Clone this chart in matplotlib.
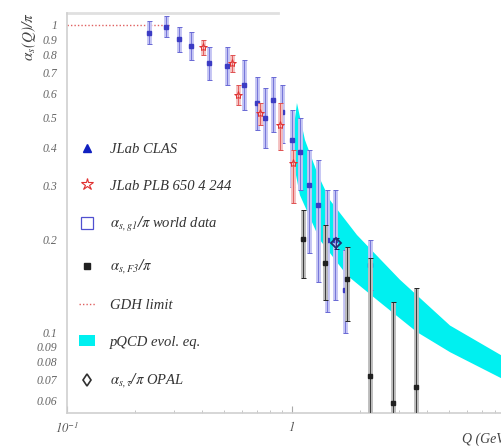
import matplotlib
matplotlib.use("Agg")
import matplotlib.pyplot as plt
from matplotlib.lines import Line2D
from matplotlib.patches import Patch
import numpy as np

plt.rcParams['font.family'] = ['Liberation Serif', 'DejaVu Serif']
plt.rcParams['font.style'] = 'italic'
plt.rcParams['mathtext.fontset'] = 'stix'

# alpha_g1/pi world data: Q, value, lower edge, upper edge
q_world = [0.231, 0.275, 0.315, 0.356, 0.428, 0.514, 0.612, 0.699, 0.759, 0.823,
           0.903, 1.000, 1.085, 1.190, 1.305, 1.431, 1.553, 1.720, 2.222]
a_world = [0.942, 0.985, 0.900, 0.854, 0.752, 0.735, 0.638, 0.557, 0.498, 0.570,
           0.521, 0.422, 0.386, 0.301, 0.259, 0.199, 0.199, 0.137, 0.165]
lo_world = [0.867, 0.914, 0.817, 0.769, 0.662, 0.638, 0.529, 0.455, 0.398, 0.448,
            0.413, 0.297, 0.290, 0.181, 0.146, 0.116, 0.127, 0.0993, 0.137]
hi_world = [1.030, 1.070, 0.985, 0.949, 0.848, 0.848, 0.769, 0.677, 0.623, 0.677,
            0.638, 0.529, 0.498, 0.392, 0.363, 0.290, 0.290, 0.185, 0.199]

# JLab PLB 650 4 244
q_plb = [0.402, 0.541, 0.575, 0.721, 0.885, 1.010]
a_plb = [0.848, 0.752, 0.592, 0.517, 0.472, 0.355]
lo_plb = [0.798, 0.703, 0.549, 0.472, 0.392, 0.263]
hi_plb = [0.894, 0.798, 0.638, 0.557, 0.557, 0.392]

# alpha_F3/pi
q_f3 = [1.119, 1.402, 1.756, 2.222, 2.811, 3.557]
a_f3 = [0.201, 0.168, 0.149, 0.0719, 0.0587, 0.0662]
lo_f3 = [0.150, 0.127, 0.109, 0.045, 0.045, 0.045]
hi_f3 = [0.250, 0.223, 0.189, 0.174, 0.125, 0.139]

# OPAL tau point
q_opal = [1.569]
a_opal = [0.195]
lo_opal = [0.187]
hi_opal = [0.203]

# GDH limit
q_gdh = [0.1, 0.29]
a_gdh = [1.0, 1.0]

# pQCD evolution band edges
q_band_up = [1.052, 1.142, 1.305, 1.475, 1.945, 3.02, 5.04, 8.49, 12.6]
a_band_up = [0.557, 0.422, 0.325, 0.269, 0.207, 0.148, 0.105, 0.0841, 0.0724]
q_band_lo = [0.990, 1.085, 1.331, 1.756, 2.46, 3.59, 5.04, 8.49, 12.6]
a_band_lo = [0.392, 0.279, 0.1995, 0.153, 0.125, 0.100, 0.086, 0.0708, 0.0623]

y_ticks = [1, 0.9, 0.8, 0.7, 0.6, 0.5, 0.4, 0.3, 0.2, 0.1, 0.09, 0.08, 0.07, 0.06]
y_tick_labels = ['1', '0.9', '0.8', '0.7', '0.6', '0.5', '0.4', '0.3', '0.2',
                 '0.1', '0.09', '0.08', '0.07', '0.06']

W, H = 501, 447
fig = plt.figure(figsize=(W / 100, H / 100), dpi=100)
ax = fig.add_axes([67 / W, (H - 413) / H, (W - 67) / W, 400 / H])
ax.set_xscale('log')
ax.set_yscale('log')
ax.set_xlim(0.1, 8.49)
ax.set_ylim(0.0545, 1.094)


def bars(q, a, lo, hi, light, dark, lw_light, z):
    a = np.array(a)
    yerr = [a - np.array(lo), np.array(hi) - a]
    ax.errorbar(q, a, yerr=yerr, fmt='none', ecolor=light, elinewidth=lw_light,
                capsize=0, zorder=z)
    ax.errorbar(q, a, yerr=yerr, fmt='none', ecolor=dark, elinewidth=0.6,
                capsize=1.8, capthick=0.7, zorder=z + 0.1)


# band
ax.fill(np.concatenate([q_band_up, q_band_lo[::-1]]),
        np.concatenate([a_band_up, a_band_lo[::-1]]),
        color='#00f0f0', lw=0, zorder=1)

ax.plot(q_gdh, a_gdh, ls=(0, (1, 1.5)), color='#e06060', lw=1, zorder=2)

bars(q_world, a_world, lo_world, hi_world, '#c4c4f4', '#6868d4', 3.5, 3)
ax.plot(q_world, a_world, 's', ms=2.5, color='#3c3cc4', zorder=4)

bars(q_plb, a_plb, lo_plb, hi_plb, '#f4c0c0', '#e05050', 3.5, 5)
ax.plot(q_plb, a_plb, '*', ms=6, mfc='none', mec='#e03030', mew=0.7, zorder=6)

bars(q_f3, a_f3, lo_f3, hi_f3, '#bcbcbc', '#252525', 3.5, 7)
ax.plot(q_f3, a_f3, 's', ms=3.5, color='#202020', zorder=8)

bars(q_opal, a_opal, lo_opal, hi_opal, '#9090e0', '#202060', 1.5, 9)
ax.plot(q_opal, a_opal, 'D', ms=5, mfc='none', mec='#203070', mew=1.3, zorder=10)

# axes frame
for s in ['top', 'right']:
    ax.spines[s].set_visible(False)
for s in ['left', 'bottom']:
    ax.spines[s].set_color('#d0d0d0')
    ax.spines[s].set_linewidth(1.2)
ax.plot([0, 0.486], [1, 1], transform=ax.transAxes, color='#e0e0e0', lw=2,
        clip_on=False)

ax.set_yticks(y_ticks)
ax.set_yticklabels(y_tick_labels)
ax.yaxis.set_minor_locator(matplotlib.ticker.NullLocator())
ax.tick_params(axis='y', length=0, pad=7, labelsize=8.5, labelcolor='#666666')
ax.set_xticks([0.1, 1])
ax.set_xticklabels([r'$\mathit{10^{-1}}$', r'$\mathit{1}$'])
ax.tick_params(axis='x', which='major', direction='in', length=5, width=0.8,
               color='#aaaaaa', labelsize=9, labelcolor='#555555', pad=5)
ax.tick_params(axis='x', which='minor', direction='in', length=2.5, width=0.6,
               color='#bbbbbb')
ax.xaxis.set_minor_formatter(matplotlib.ticker.NullFormatter())

fig.text(29 / W, 1 - 37 / H, r'$\alpha_s(Q)/\pi$', rotation=90, ha='center',
         va='center', fontsize=11, color='#444444')
fig.text(462 / W, 1 - 439 / H, 'Q (GeV)', ha='left', va='center', fontsize=10,
         color='#444444')

handles = [
    Line2D([], [], ls='none', marker='^', ms=6, color='#1020c0'),
    Line2D([], [], ls='none', marker='*', ms=9, mfc='none', mec='#e03030', mew=0.8),
    Line2D([], [], ls='none', marker='s', ms=8, mfc='none', mec='#5050d0', mew=0.9),
    Line2D([], [], ls='none', marker='s', ms=5, color='#202020'),
    Line2D([], [], ls=(0, (1, 1.5)), color='#e06060', lw=1),
    Patch(facecolor='#00f0f0', edgecolor='none'),
    Line2D([], [], ls='none', marker='d', ms=6, mfc='none', mec='#303030', mew=1.2),
]
labels = [
    'JLab CLAS',
    'JLab PLB 650 4 244',
    r'$\alpha_{s,g1}/\pi$ world data',
    r'$\alpha_{s,F3}/\pi$',
    'GDH limit',
    'pQCD evol. eq.',
    r'$\alpha_{s,\tau}/\pi$ OPAL',
]
leg = fig.legend(handles, labels, loc='upper left',
                 bbox_to_anchor=(72 / W, 1 - 136 / H), frameon=False,
                 fontsize=10.5, labelspacing=1.57, handlelength=1.1,
                 handletextpad=1.0, borderpad=0)
for t in leg.get_texts():
    t.set_color('#333333')

fig.savefig('out.png', dpi=100)
